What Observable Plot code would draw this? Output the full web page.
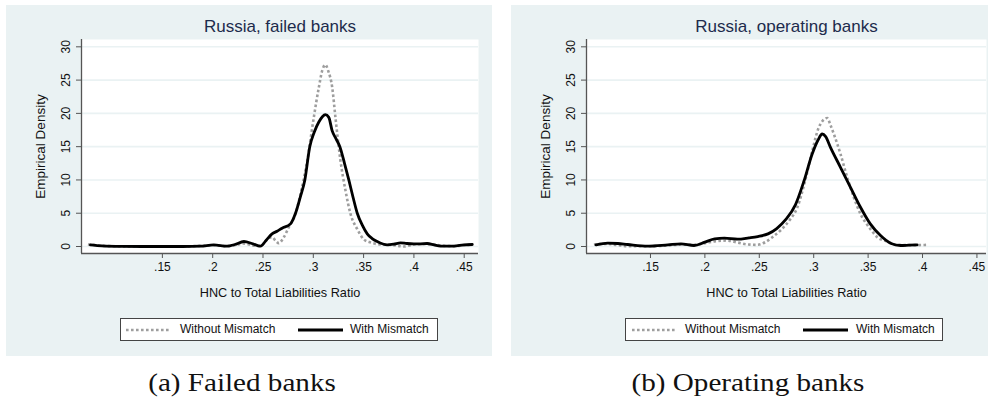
<!DOCTYPE html>
<html><head><meta charset="utf-8">
<script src="https://cdn.jsdelivr.net/npm/d3@7"></script>
<script src="https://cdn.jsdelivr.net/npm/@observablehq/plot@0.6"></script>
<style>
html,body{margin:0;padding:0;background:#fff;overflow:hidden;width:988px;height:403px}
#root{position:relative;width:988px;height:403px;font-family:"Liberation Sans",Arial,sans-serif}
.panel{position:absolute;background:#EAF2F3;overflow:hidden}
.panel svg{position:absolute;left:0;top:0}
.legend{position:absolute;background:#fff;border:1px solid #444;box-sizing:border-box;font-size:12px;color:#111}
.legend span{position:absolute;top:3px;white-space:nowrap;line-height:15px}
.legend svg{position:absolute;left:0;top:0}
.caption{position:absolute;font-family:"Liberation Serif",serif;font-size:26px;line-height:26px;color:#111;transform:translateX(-50%) scaleX(1.12);white-space:nowrap}
</style>
</head><body><div id="root"></div>
<script>
// ---------- data ----------
const yTicks = [0, 5, 10, 15, 20, 25, 30];
const xTicks = [0.15, 0.2, 0.25, 0.3, 0.35, 0.4, 0.45];
const xTickLabels = [".15", ".2", ".25", ".3", ".35", ".4", ".45"];
const seriesNames = ["Without Mismatch", "With Mismatch"];
const titles = ["Russia, failed banks", "Russia, operating banks"];
const captions = ["(a) Failed banks", "(b) Operating banks"];
const xLabel = "HNC to Total Liabilities Ratio";
const yLabel = "Empirical Density";

// Failed banks – with mismatch (black)
const failedWithX = [0.0785,0.09,0.11,0.13,0.15,0.17,0.188,0.201,0.2144,0.222,0.231,0.24,0.2475,0.253,0.259,0.264,0.269,0.2773,0.2823,0.287,0.2916,0.2965,0.301,0.3055,0.309,0.312,0.3154,0.3187,0.3225,0.3264,0.331,0.3353,0.3395,0.3437,0.3487,0.3536,0.3585,0.3635,0.3735,0.38,0.3867,0.393,0.4,0.4066,0.4132,0.42,0.4264,0.433,0.4397,0.4496,0.458];
const failedWithY = [0.25,0.1,0.02,0,0,0,0.05,0.25,0.05,0.3,0.75,0.4,0.05,0.9,1.9,2.3,2.75,3.4,5.0,7.4,10.0,15.0,17.2,18.7,19.5,19.8,19.4,17.4,16.2,15.0,12.5,10.0,7.4,5.0,3.2,1.9,1.2,0.75,0.25,0.35,0.55,0.45,0.4,0.4,0.45,0.25,0.05,0.05,0.05,0.25,0.3];
// Failed banks – without mismatch (grey dotted)
const failedWithoutX = [0.076,0.09,0.11,0.13,0.15,0.17,0.188,0.201,0.2144,0.222,0.231,0.24,0.2475,0.253,0.259,0.2624,0.2657,0.2707,0.2757,0.2823,0.2873,0.294,0.3005,0.3055,0.309,0.312,0.315,0.3188,0.322,0.327,0.332,0.337,0.3437,0.35,0.357,0.367,0.38,0.39,0.4,0.41,0.42,0.43,0.44,0.45,0.458];
const failedWithoutY = [0.3,0.1,0.02,0,0,0,0.1,0.2,0.05,0.2,0.45,0.15,0.05,0.9,1.4,0.9,0.5,1.4,2.9,4.9,7.9,12.9,19.4,23.9,26.5,27.3,26.3,23.9,19.4,12.9,8.4,4.9,2.6,1.1,0.6,0.3,0.2,0.0,0.3,0.35,0.3,0.1,0.05,0.2,0.3];
// Operating banks – with mismatch (black)
const operWithX = [0.1,0.1108,0.12,0.129,0.1475,0.166,0.178,0.19,0.2,0.209,0.218,0.23,0.2405,0.2486,0.258,0.266,0.274,0.2833,0.291,0.2986,0.304,0.3078,0.311,0.3154,0.3246,0.3338,0.343,0.352,0.3614,0.3706,0.3798,0.3875,0.395];
const operWithY = [0.25,0.5,0.45,0.3,0.05,0.25,0.4,0.15,0.65,1.15,1.25,1.1,1.3,1.5,1.9,2.7,4.0,6.3,9.8,13.9,16.0,16.9,16.5,14.9,11.9,8.9,5.9,3.4,1.65,0.5,0.15,0.2,0.25];
// Operating banks – without mismatch (grey dotted)
const operWithoutX = [0.098,0.11,0.12,0.13,0.1475,0.166,0.18,0.19,0.2,0.21,0.22,0.23,0.24,0.248,0.256,0.262,0.27,0.278,0.2848,0.292,0.2986,0.3047,0.3124,0.3155,0.3185,0.3246,0.3308,0.3368,0.343,0.352,0.3584,0.3676,0.3767,0.39,0.4043];
const operWithoutY = [0.3,0.4,0.2,0.05,0.05,0.15,0.3,0.25,0.5,0.8,0.9,0.6,0.3,0.25,0.7,1.4,2.5,4.0,5.8,9.8,14.3,17.9,19.3,18.2,16.9,13.9,10.4,7.4,4.9,2.65,1.4,0.75,0.25,0.2,0.25];

// ---------- layout ----------
const BG = "#EAF2F3";
const NAVY = "#1d2b4c";
const yDomain = [-1.05, 31.1];
const panels = [
  {left: 6, width: 486, xDomain: [0.0696, 0.4642], mr: 14,
   gray: [failedWithoutX, failedWithoutY], black: [failedWithX, failedWithY],
   legend: {left: 120, g: [5, 50], gt: 59, b: [177, 222], bt: 229}, cap: 242},
  {left: 511, width: 477, xDomain: [0.0912, 0.4588], mr: 2,
   gray: [operWithoutX, operWithoutY], black: [operWithX, operWithY],
   legend: {left: 625, g: [6, 51], gt: 59, b: [177, 222], bt: 230}, cap: 748}
];

const root = document.getElementById("root");
panels.forEach((p, i) => {
  const div = document.createElement("div");
  div.className = "panel";
  div.style.left = p.left + "px"; div.style.top = "5px";
  div.style.width = p.width + "px"; div.style.height = "351px";
  const zipG = d3.zip(p.gray[0], p.gray[1]);
  const zipB = d3.zip(p.black[0], p.black[1]);
  const chart = Plot.plot({
    width: p.width, height: 351,
    marginLeft: 75, marginRight: p.mr, marginTop: 34, marginBottom: 103,
    x: {domain: p.xDomain, type: "linear"},
    y: {domain: yDomain, type: "linear"},
    style: {background: "transparent", fontFamily: "'Liberation Sans', Arial, sans-serif", fontSize: "12px", color: "#111"},
    marks: [
      Plot.frame({fill: "white", stroke: null}),
      Plot.gridY(yTicks, {stroke: BG, strokeOpacity: 1, strokeWidth: 1.6}),
      Plot.axisX(xTicks, {tickSize: 5, tickPadding: 4, stroke: "#555", label: null,
        tickFormat: d => xTickLabels[xTicks.indexOf(d)], fontSize: 12}),
      Plot.axisY(yTicks, {tickSize: 5, stroke: "#555", label: null, tickFormat: () => ""}),
      Plot.text(yTicks, {y: d => d, frameAnchor: "left", dx: -15, rotate: -90, textAnchor: "middle",
        lineAnchor: "middle", text: d => String(d), fontSize: 12, fill: "#111"}),
      Plot.ruleX([p.xDomain[0]], {stroke: "#555", strokeWidth: 1.3}),
      Plot.ruleY([yDomain[0]], {stroke: "#555", strokeWidth: 1.3}),
      Plot.line(zipG, {x: d => d[0], y: d => d[1], curve: "monotone-x", stroke: "#9e9e9e",
        strokeWidth: 2.6, strokeDasharray: "2.6,2.4", strokeLinecap: "butt"}),
      Plot.line(zipB, {x: d => d[0], y: d => d[1], curve: "monotone-x", stroke: "#000",
        strokeWidth: 2.8, strokeLinejoin: "round"}),
      Plot.text([titles[i]], {frameAnchor: "top", dy: -12.5, lineAnchor: "middle", fontSize: 17, fill: NAVY}),
      Plot.text([xLabel], {frameAnchor: "bottom", dy: 39, lineAnchor: "middle", fontSize: 12.7, fill: "#111"}),
      Plot.text([yLabel], {frameAnchor: "left", dx: -41, rotate: -90, textAnchor: "middle", lineAnchor: "middle", fontSize: 13.5, fill: "#111"})
    ]
  });
  div.appendChild(chart);
  root.appendChild(div);

  // legend
  const L = p.legend;
  const lg = document.createElement("div");
  lg.className = "legend";
  lg.style.left = L.left + "px"; lg.style.top = "318px";
  lg.style.width = "318px"; lg.style.height = "23px";
  lg.innerHTML =
    `<svg width="318" height="23"><line x1="${L.g[0]}" x2="${L.g[1]}" y1="11" y2="11" stroke="#9e9e9e" stroke-width="2.6" stroke-dasharray="2.6,2.4"/>` +
    `<line x1="${L.b[0]}" x2="${L.b[1]}" y1="11" y2="11" stroke="#000" stroke-width="2.8"/></svg>` +
    `<span style="left:${L.gt}px">${seriesNames[0]}</span><span style="left:${L.bt}px">${seriesNames[1]}</span>`;
  root.appendChild(lg);

  const cap = document.createElement("div");
  cap.className = "caption";
  cap.style.left = p.cap + "px"; cap.style.top = "370px";
  cap.textContent = captions[i];
  root.appendChild(cap);
});
</script></body></html>
